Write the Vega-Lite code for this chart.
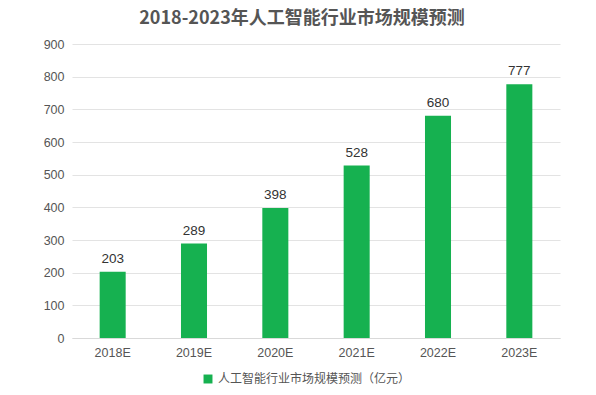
{
  "$schema": "https://vega.github.io/schema/vega-lite/v6.json",
  "width": 488,
  "height": 294,
  "autosize": {"type": "none"},
  "padding": {"left": 72, "top": 44, "right": 36, "bottom": 57},
  "background": "white",
  "title": {
    "text": "2018-2023年人工智能行业市场规模预测",
    "font": "Noto Sans CJK SC",
    "fontSize": 18,
    "fontWeight": "bold",
    "color": "#555555",
    "anchor": "middle",
    "dx": -14,
    "offset": 10
  },
  "data": {
    "values": [
      {"year": "2018E", "value": 203, "series": "人工智能行业市场规模预测（亿元）"},
      {"year": "2019E", "value": 289, "series": "人工智能行业市场规模预测（亿元）"},
      {"year": "2020E", "value": 398, "series": "人工智能行业市场规模预测（亿元）"},
      {"year": "2021E", "value": 528, "series": "人工智能行业市场规模预测（亿元）"},
      {"year": "2022E", "value": 680, "series": "人工智能行业市场规模预测（亿元）"},
      {"year": "2023E", "value": 777, "series": "人工智能行业市场规模预测（亿元）"}
    ]
  },
  "encoding": {
    "x": {
      "field": "year",
      "type": "nominal",
      "sort": null,
      "scale": {"paddingInner": 0.68, "paddingOuter": 0.34},
      "axis": {
        "title": null,
        "labelAngle": 0,
        "labelFont": "Liberation Sans",
        "labelFontSize": 12.5,
        "labelColor": "#555555",
        "labelPadding": 8,
        "ticks": false,
        "domainColor": "#d9d9d9"
      }
    },
    "y": {
      "field": "value",
      "type": "quantitative",
      "scale": {"domain": [0, 900]},
      "axis": {
        "title": null,
        "values": [0, 100, 200, 300, 400, 500, 600, 700, 800, 900],
        "labelFont": "Liberation Sans",
        "labelFontSize": 12.5,
        "labelColor": "#555555",
        "labelPadding": 8,
        "ticks": false,
        "domain": false,
        "gridColor": "#e3e3e3"
      }
    }
  },
  "layer": [
    {
      "mark": {"type": "bar", "color": "#16b150"},
      "encoding": {
        "color": {
          "field": "series",
          "type": "nominal",
          "scale": {"range": ["#16b150"]},
          "legend": {
            "title": null,
            "orient": "none",
            "legendX": 130,
            "legendY": 329,
            "symbolType": "square",
            "symbolSize": 80,
            "symbolStrokeWidth": 0,
            "labelLimit": 0,
            "labelFont": "Noto Sans CJK SC",
            "labelFontSize": 12,
            "labelColor": "#555555"
          }
        }
      }
    },
    {
      "mark": {
        "type": "text",
        "baseline": "bottom",
        "dy": -6,
        "font": "Liberation Sans",
        "fontSize": 13.5,
        "color": "#333333"
      },
      "encoding": {"text": {"field": "value", "type": "quantitative"}}
    }
  ],
  "config": {"view": {"stroke": null}}
}
